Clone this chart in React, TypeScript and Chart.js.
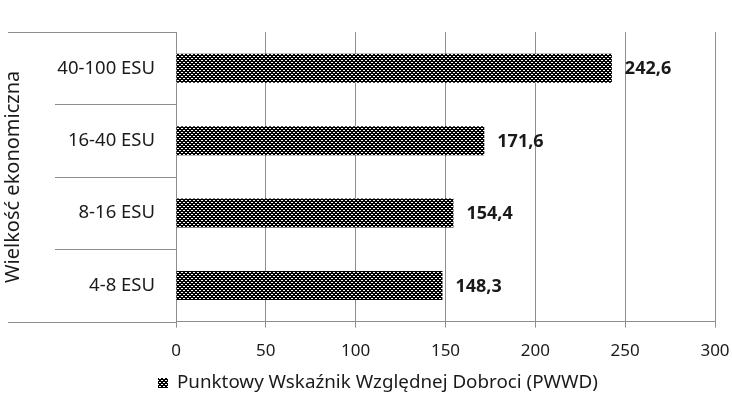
import React, { useEffect, useRef } from "react";
import { Chart, registerables } from "chart.js";

Chart.register(...registerables);

const categories = ["40-100 ESU", "16-40 ESU", "8-16 ESU", "4-8 ESU"];
const values = [242.6, 171.6, 154.4, 148.3];
const valueLabels = ["242,6", "171,6", "154,4", "148,3"];
const xTicks = [0, 50, 100, 150, 200, 250, 300];
const seriesName = "Punktowy Wskaźnik Względnej Dobroci (PWWD)";
const yTitle = "Wielkość ekonomiczna";

const FONT = "'Noto Sans', 'DejaVu Sans', sans-serif";
const LINE = "#8e8e8e";

function makePattern(): CanvasPattern | string {
  const c = document.createElement("canvas");
  c.width = 8;
  c.height = 4;
  const g = c.getContext("2d");
  if (!g) return "#222";
  g.fillStyle = "#000";
  g.fillRect(0, 0, 8, 4);
  g.fillStyle = "#ffffff";
  g.fillRect(1, 0, 2, 1);
  g.fillRect(5, 0, 2, 1);
  g.fillRect(3, 2, 2, 1);
  g.fillRect(7, 2, 1, 1);
  g.fillRect(0, 2, 1, 1);
  const p = g.createPattern(c, "repeat");
  return p || "#222";
}

function makeExtras(pattern: any) {
  return {
    id: "extras",
    afterDraw(chart: any) {
      const ctx = chart.ctx;
      const area = chart.chartArea;
      const y = chart.scales.y;
      const x = chart.scales.x;
      ctx.save();
      ctx.strokeStyle = LINE;
      ctx.lineWidth = 1;
      ctx.beginPath();
      ctx.moveTo(8, Math.round(area.top) + 0.5);
      ctx.lineTo(area.left, Math.round(area.top) + 0.5);
      ctx.moveTo(8, Math.round(area.bottom) + 0.5);
      ctx.lineTo(area.left, Math.round(area.bottom) + 0.5);
      ctx.stroke();
      ctx.beginPath();
      for (let i = 0; i < categories.length - 1; i++) {
        const py = Math.round((y.getPixelForValue(i) + y.getPixelForValue(i + 1)) / 2) + 0.5;
        ctx.moveTo(55, py);
        ctx.lineTo(area.left, py);
      }
      ctx.stroke();
      // value labels
      ctx.fillStyle = "#1a1a1a";
      ctx.font = `bold 18px ${FONT}`;
      ctx.textAlign = "left";
      ctx.textBaseline = "middle";
      values.forEach((v, i) => {
        const px = x.getPixelForValue(v);
        const py = y.getPixelForValue(i);
        ctx.fillText(valueLabels[i], px + 13, py + 1);
      });
      // legend
      const legendY = 383;
      ctx.fillStyle = pattern;
      ctx.fillRect(158, legendY - 5, 10, 10);
      ctx.fillStyle = "#1a1a1a";
      ctx.font = `18.8px ${FONT}`;
      ctx.fillText(seriesName, 177, legendY);
      ctx.restore();
    },
  };
}

export default function App() {
  const ref = useRef<HTMLCanvasElement | null>(null);
  useEffect(() => {
    if (!ref.current) return;
    const pattern = makePattern();
    const chart = new Chart(ref.current, {
      type: "bar",
      data: {
        labels: categories,
        datasets: [
          {
            label: seriesName,
            data: values,
            backgroundColor: pattern as any,
            borderWidth: 0,
            barPercentage: 0.4,
            categoryPercentage: 1,
          },
        ],
      },
      options: {
        indexAxis: "y",
        animation: false,
        responsive: false,
        maintainAspectRatio: false,
        layout: { padding: { top: 13, right: 17, bottom: 31, left: 0 } },
        scales: {
          x: {
            min: 0,
            max: 300,
            afterBuildTicks: (scale: any) => {
              scale.ticks = xTicks.map((v) => ({ value: v }));
            },
            afterFit: (scale: any) => {
              scale.paddingRight = 0;
              scale.paddingLeft = 0;
            },
            grid: {
              color: LINE,
              lineWidth: 1,
              tickLength: 6,
              drawTicks: true,
            },
            border: { display: true, color: LINE },
            ticks: {
              color: "#1a1a1a",
              font: { family: FONT, size: 17 },
              padding: 13,
            },
          },
          y: {
            grid: { display: false, drawTicks: false },
            border: { display: true, color: LINE },
            afterFit: (scale: any) => {
              scale.width = 176;
            },
            ticks: {
              color: "#1a1a1a",
              font: { family: FONT, size: 18.5 },
              padding: 21,
            },
            title: {
              display: true,
              text: yTitle,
              color: "#1a1a1a",
              font: { family: FONT, size: 20 },
              padding: { top: 1, bottom: 0 },
            },
          },
        },
        plugins: {
          legend: { display: false },
          tooltip: { enabled: false },
        },
      },
      plugins: [makeExtras(pattern)],
    });
    return () => chart.destroy();
  }, []);
  return (
    <div style={{ position: "fixed", left: 0, top: 0, width: 732, height: 405, background: "#fff" }}>
      <canvas ref={ref} width={732} height={405} style={{ display: "block" }} />
    </div>
  );
}
